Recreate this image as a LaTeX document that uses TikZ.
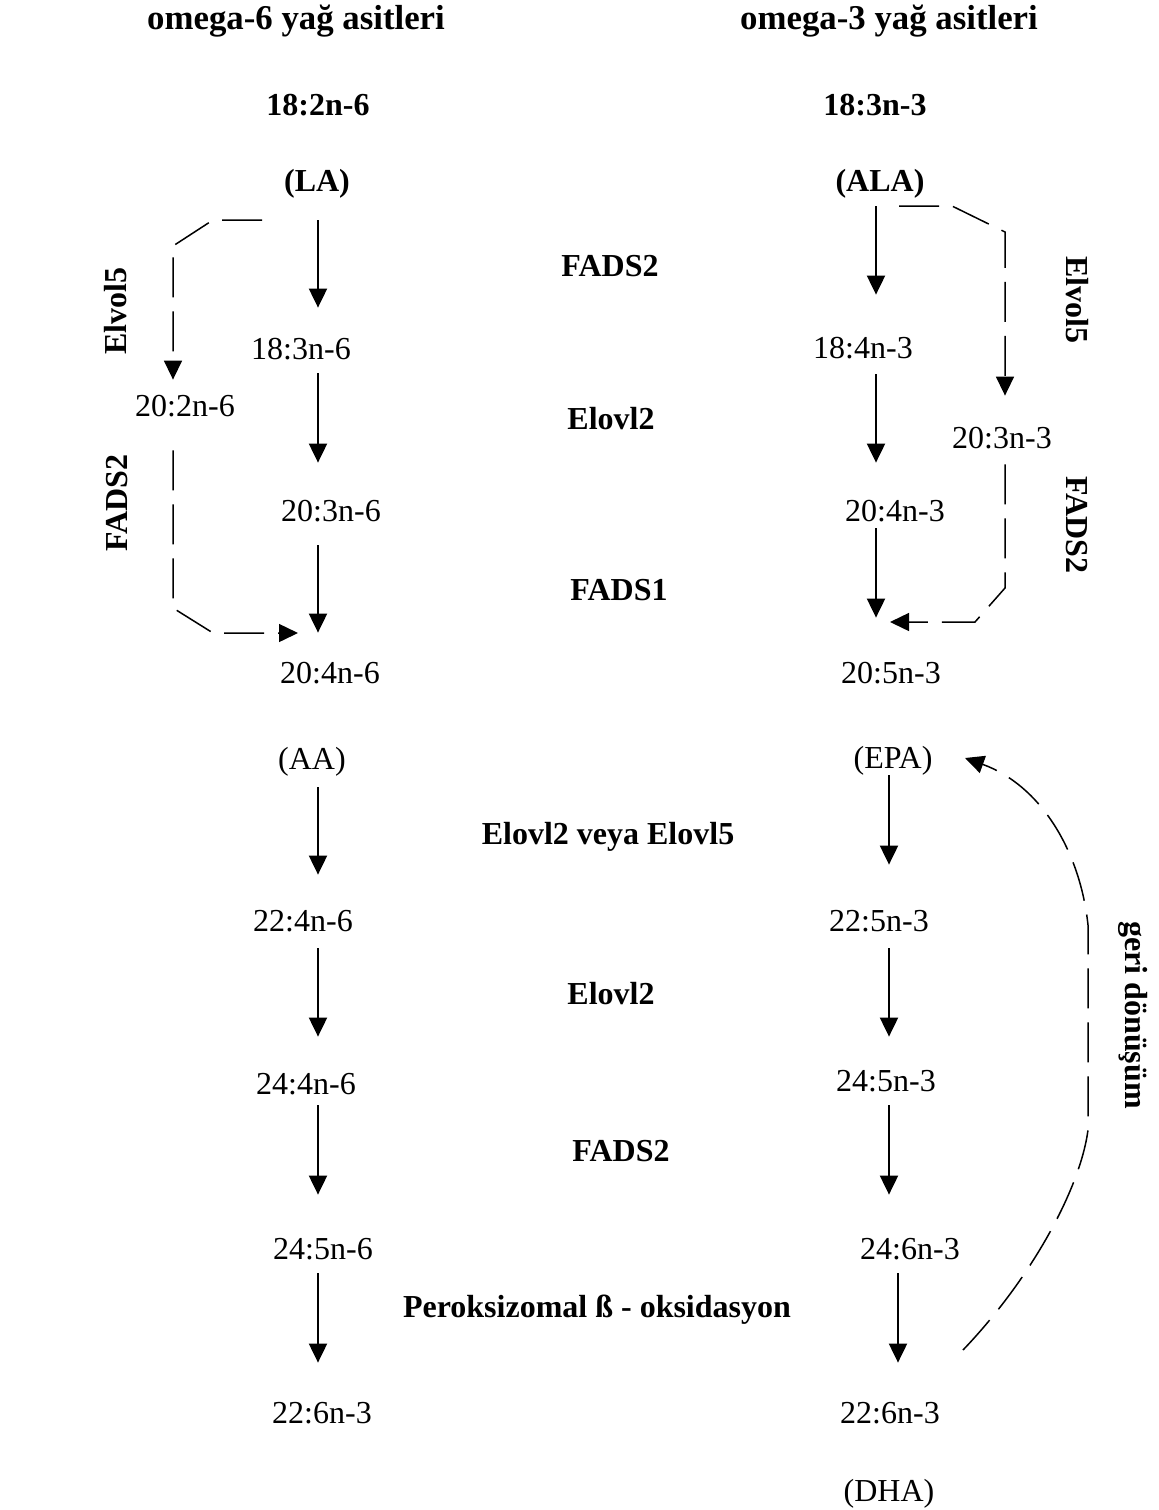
\documentclass[tikz,border=0pt]{standalone}
\usepackage{fontspec}
\setmainfont{Liberation Serif}
\usetikzlibrary{arrows.meta}
\newcommand\myfs{\fontsize{16pt}{19pt}\selectfont}
\newcommand\mytfs{\fontsize{17.4pt}{20pt}\selectfont}
\begin{document}
\begin{tikzpicture}[x=0.5pt,y=-0.5pt,
  lbl/.style={inner sep=0pt, anchor=base, font=\myfs, text height=11pt, text depth=3.5pt},
  blbl/.style={lbl, font=\myfs\bfseries},
  tlbl/.style={lbl, font=\mytfs\bfseries},
  rlbl/.style={inner sep=0pt, font=\myfs\bfseries},
  arr/.style={line width=1pt, -{Triangle[width=9pt,length=9.5pt]}},
  darr/.style={line width=0.75pt, dash pattern=on 20pt off 7pt, -{Triangle[width=9pt,length=9.5pt]}}]
\fill[white] (0,0) rectangle (1158,1510);
\useasboundingbox (0,0) rectangle (1158,1510);

% column coordinates
\coordinate (colL) at (318,0);
\coordinate (colR) at (876,0);
\coordinate (colR2) at (889,0);
\coordinate (colR3) at (898,0);
\coordinate (colD) at (173,0);
\coordinate (colE) at (1005,0);

% titles
\node[tlbl] (T6) at (296,29) {omega-6 yağ asitleri};
\node[tlbl] (T3) at (889,29) {omega-3 yağ asitleri};
\node[blbl] (F6) at (318,115) {18:2n-6};
\node[blbl] (F3) at (875,115) {18:3n-3};
\node[blbl] (LA) at (317,191) {(LA)};
\node[blbl] (ALA) at (880,191) {(ALA)};

% omega-6 column
\node[lbl] (L1) at (301,359) {18:3n-6};
\node[lbl] (L0) at (185,416) {20:2n-6};
\node[lbl] (L2) at (331,521) {20:3n-6};
\node[lbl] (L3) at (330,683) {20:4n-6};
\node[lbl] (AA) at (312,769) {(AA)};
\node[lbl] (L4) at (303,931) {22:4n-6};
\node[lbl] (L5) at (306,1094) {24:4n-6};
\node[lbl] (L6) at (323,1259) {24:5n-6};
\node[lbl] (L7) at (322,1423) {22:6n-3};

% omega-3 column
\node[lbl] (R1) at (863,358) {18:4n-3};
\node[lbl] (R0) at (1002,448) {20:3n-3};
\node[lbl] (R2) at (895,521) {20:4n-3};
\node[lbl] (R3) at (891,683) {20:5n-3};
\node[lbl] (EPA) at (893,768) {(EPA)};
\node[lbl] (R4) at (879,931) {22:5n-3};
\node[lbl] (R5) at (886,1091) {24:5n-3};
\node[lbl] (R6) at (910,1259) {24:6n-3};
\node[lbl] (R7) at (890,1423) {22:6n-3};
\node[lbl] (DHA) at (889,1501) {(DHA)};

% enzyme labels (middle)
\node[blbl] (E1) at (610,276) {FADS2};
\node[blbl] (E2) at (611,429) {Elovl2};
\node[blbl] (E3) at (619,600) {FADS1};
\node[blbl] (E4) at (608,844) {Elovl2 veya Elovl5};
\node[blbl] (E5) at (611,1004) {Elovl2};
\node[blbl] (E6) at (621,1161) {FADS2};
\node[blbl] (E7) at (597,1317) {Peroksizomal ß - oksidasyon};

% rotated labels
\node[rlbl, rotate=90] (S1) at (116,311) {Elvol5};
\node[rlbl, rotate=90] (S2) at (117,503) {FADS2};
\node[rlbl, rotate=-90] (S3) at (1077,300) {Elvol5};
\node[rlbl, rotate=-90] (S4) at (1077,525) {FADS2};
\node[rlbl, rotate=-90] (S5) at (1133,1015) {geri dönüşüm};

% omega-6 main arrows
\draw[arr, shorten <=11pt, shorten >=14.5pt] (LA.south -| colL) -- (L1.north -| colL);
\draw[arr, shorten <=3.5pt, shorten >=18pt] (L1.south -| colL) -- (L2.north -| colL);
\draw[arr, shorten <=8.5pt, shorten >=14pt] (L2.south -| colL) -- (L3.north -| colL);
\draw[arr, shorten <=5.5pt, shorten >=17pt] (AA.south -| colL) -- (L4.north -| colL);
\draw[arr, shorten <=5pt, shorten >=17.5pt] (L4.south -| colL) -- (L5.north -| colL);
\draw[arr, shorten <=2pt, shorten >=21pt] (L5.south -| colL) -- (L6.north -| colL);
\draw[arr, shorten <=3.5pt, shorten >=19pt] (L6.south -| colL) -- (L7.north -| colL);

% omega-3 main arrows
\draw[arr, shorten <=4pt, shorten >=20.5pt] (ALA.south -| colR) -- (R1.north -| colR);
\draw[arr, shorten <=4.5pt, shorten >=18pt] (R1.south -| colR) -- (R2.north -| colR);
\draw[arr, shorten >=21.5pt] (R2.south -| colR) -- (R3.north -| colR);
\draw[arr, shorten >=22pt] (EPA.south -| colR2) -- (R4.north -| colR2);
\draw[arr, shorten <=5pt, shorten >=16pt] (R4.south -| colR2) -- (R5.north -| colR2);
\draw[arr, shorten <=3.5pt, shorten >=21pt] (R5.south -| colR2) -- (R6.north -| colR2);
\draw[arr, shorten <=3.5pt, shorten >=19pt] (R6.south -| colR3) -- (R7.north -| colR3);

% dashed side branches
\coordinate (c1) at (262,220);
\coordinate (m1) at (298,633);
\coordinate (c2) at (899,206);
\coordinate (c3) at (890,622);
\coordinate (c4) at (963,1350);
\coordinate (c5) at (965,758);

\draw[darr, shorten >=7pt] (c1) -- (213,220) -- (173,246) -- (L0.north -| colD);
\draw[darr, shorten <=13.5pt] (L0.south -| colD) -- (173,608) -- (213,633) -- (m1);
\draw[darr, shorten >=15pt] (c2) -- (952,206) -- (1005,232) -- (R0.north -| colE);
\draw[darr, shorten <=4.5pt] (R0.south -| colE) -- (1005,588) -- (975,622) -- (c3);

% recycling curve
\draw[darr] (c4) .. controls (1030,1280) and (1080,1190) .. (1088,1130)
  -- (1088,925) .. controls (1080,850) and (1040,785) .. (c5);
\end{tikzpicture}
\end{document}
